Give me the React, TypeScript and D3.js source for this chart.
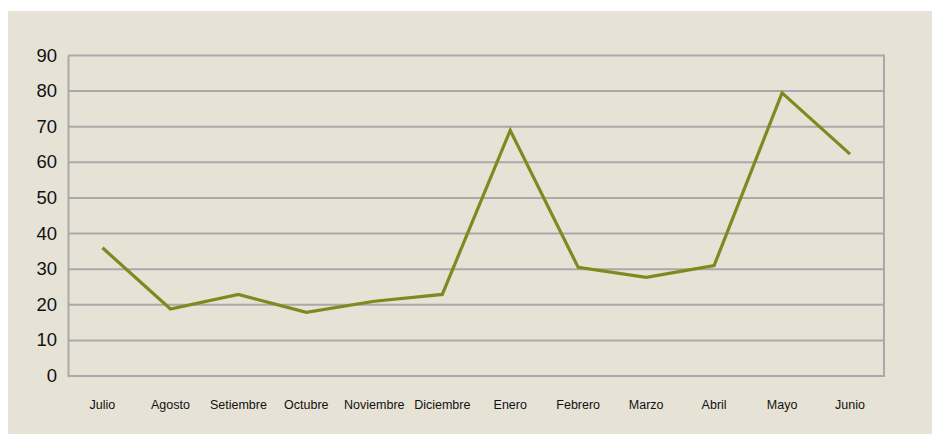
import React from "react";
import * as d3 from "d3";

const months = ["Julio", "Agosto", "Setiembre", "Octubre", "Noviembre", "Diciembre", "Enero", "Febrero", "Marzo", "Abril", "Mayo", "Junio"];
const values = [36, 18.8, 22.9, 17.9, 21, 22.9, 69, 30.5, 27.7, 31, 79.5, 62.3];
const yTicks = [0, 10, 20, 30, 40, 50, 60, 70, 80, 90];

const W = 932;
const H = 434;
const left = 68.5;
const right = 884;
const top = 55.5;
const bottom = 376;

export default function App() {
  const x = d3.scalePoint<string>().domain(months).range([left, right]).padding(0.5);
  const y = d3.scaleLinear().domain([0, 90]).range([bottom, top]);
  const line = d3
    .line<number>()
    .x((_, i) => x(months[i]) as number)
    .y((d) => y(d));

  return (
    <svg
      width={W}
      height={H}
      style={{ position: "absolute", left: 0, top: 0, fontFamily: "'Liberation Sans', Arial, sans-serif" }}
    >
      <rect x={0} y={0} width={W} height={H} fill="#ffffff" />
      <rect x={8} y={11} width={W - 8} height={H - 11} fill="#e7e2d6" />
      {yTicks.map((t) => (
        <g key={t}>
          {t > 0 && (
            <line x1={left} x2={right} y1={y(t)} y2={y(t)} stroke="#a9a9a9" strokeWidth={2} />
          )}
          <text x={57} y={y(t)} dy="0.33em" textAnchor="end" fontSize={18.5} fill="#111">
            {t}
          </text>
        </g>
      ))}
      <line x1={left} x2={right} y1={bottom} y2={bottom} stroke="#a9a9a9" strokeWidth={2} />
      <line x1={left} x2={left} y1={top} y2={bottom + 1} stroke="#a9a9a9" strokeWidth={2} />
      <line x1={right} x2={right} y1={top - 1} y2={bottom + 1} stroke="#a9a9a9" strokeWidth={2} />
      {months.map((m) => (
        <text key={m} x={x(m) as number} y={405} dy="0.35em" textAnchor="middle" fontSize={12.5} fill="#111">
          {m}
        </text>
      ))}
      <path d={line(values) as string} fill="none" stroke="#7d8a1e" strokeWidth={3.2} strokeLinejoin="miter" />
    </svg>
  );
}
